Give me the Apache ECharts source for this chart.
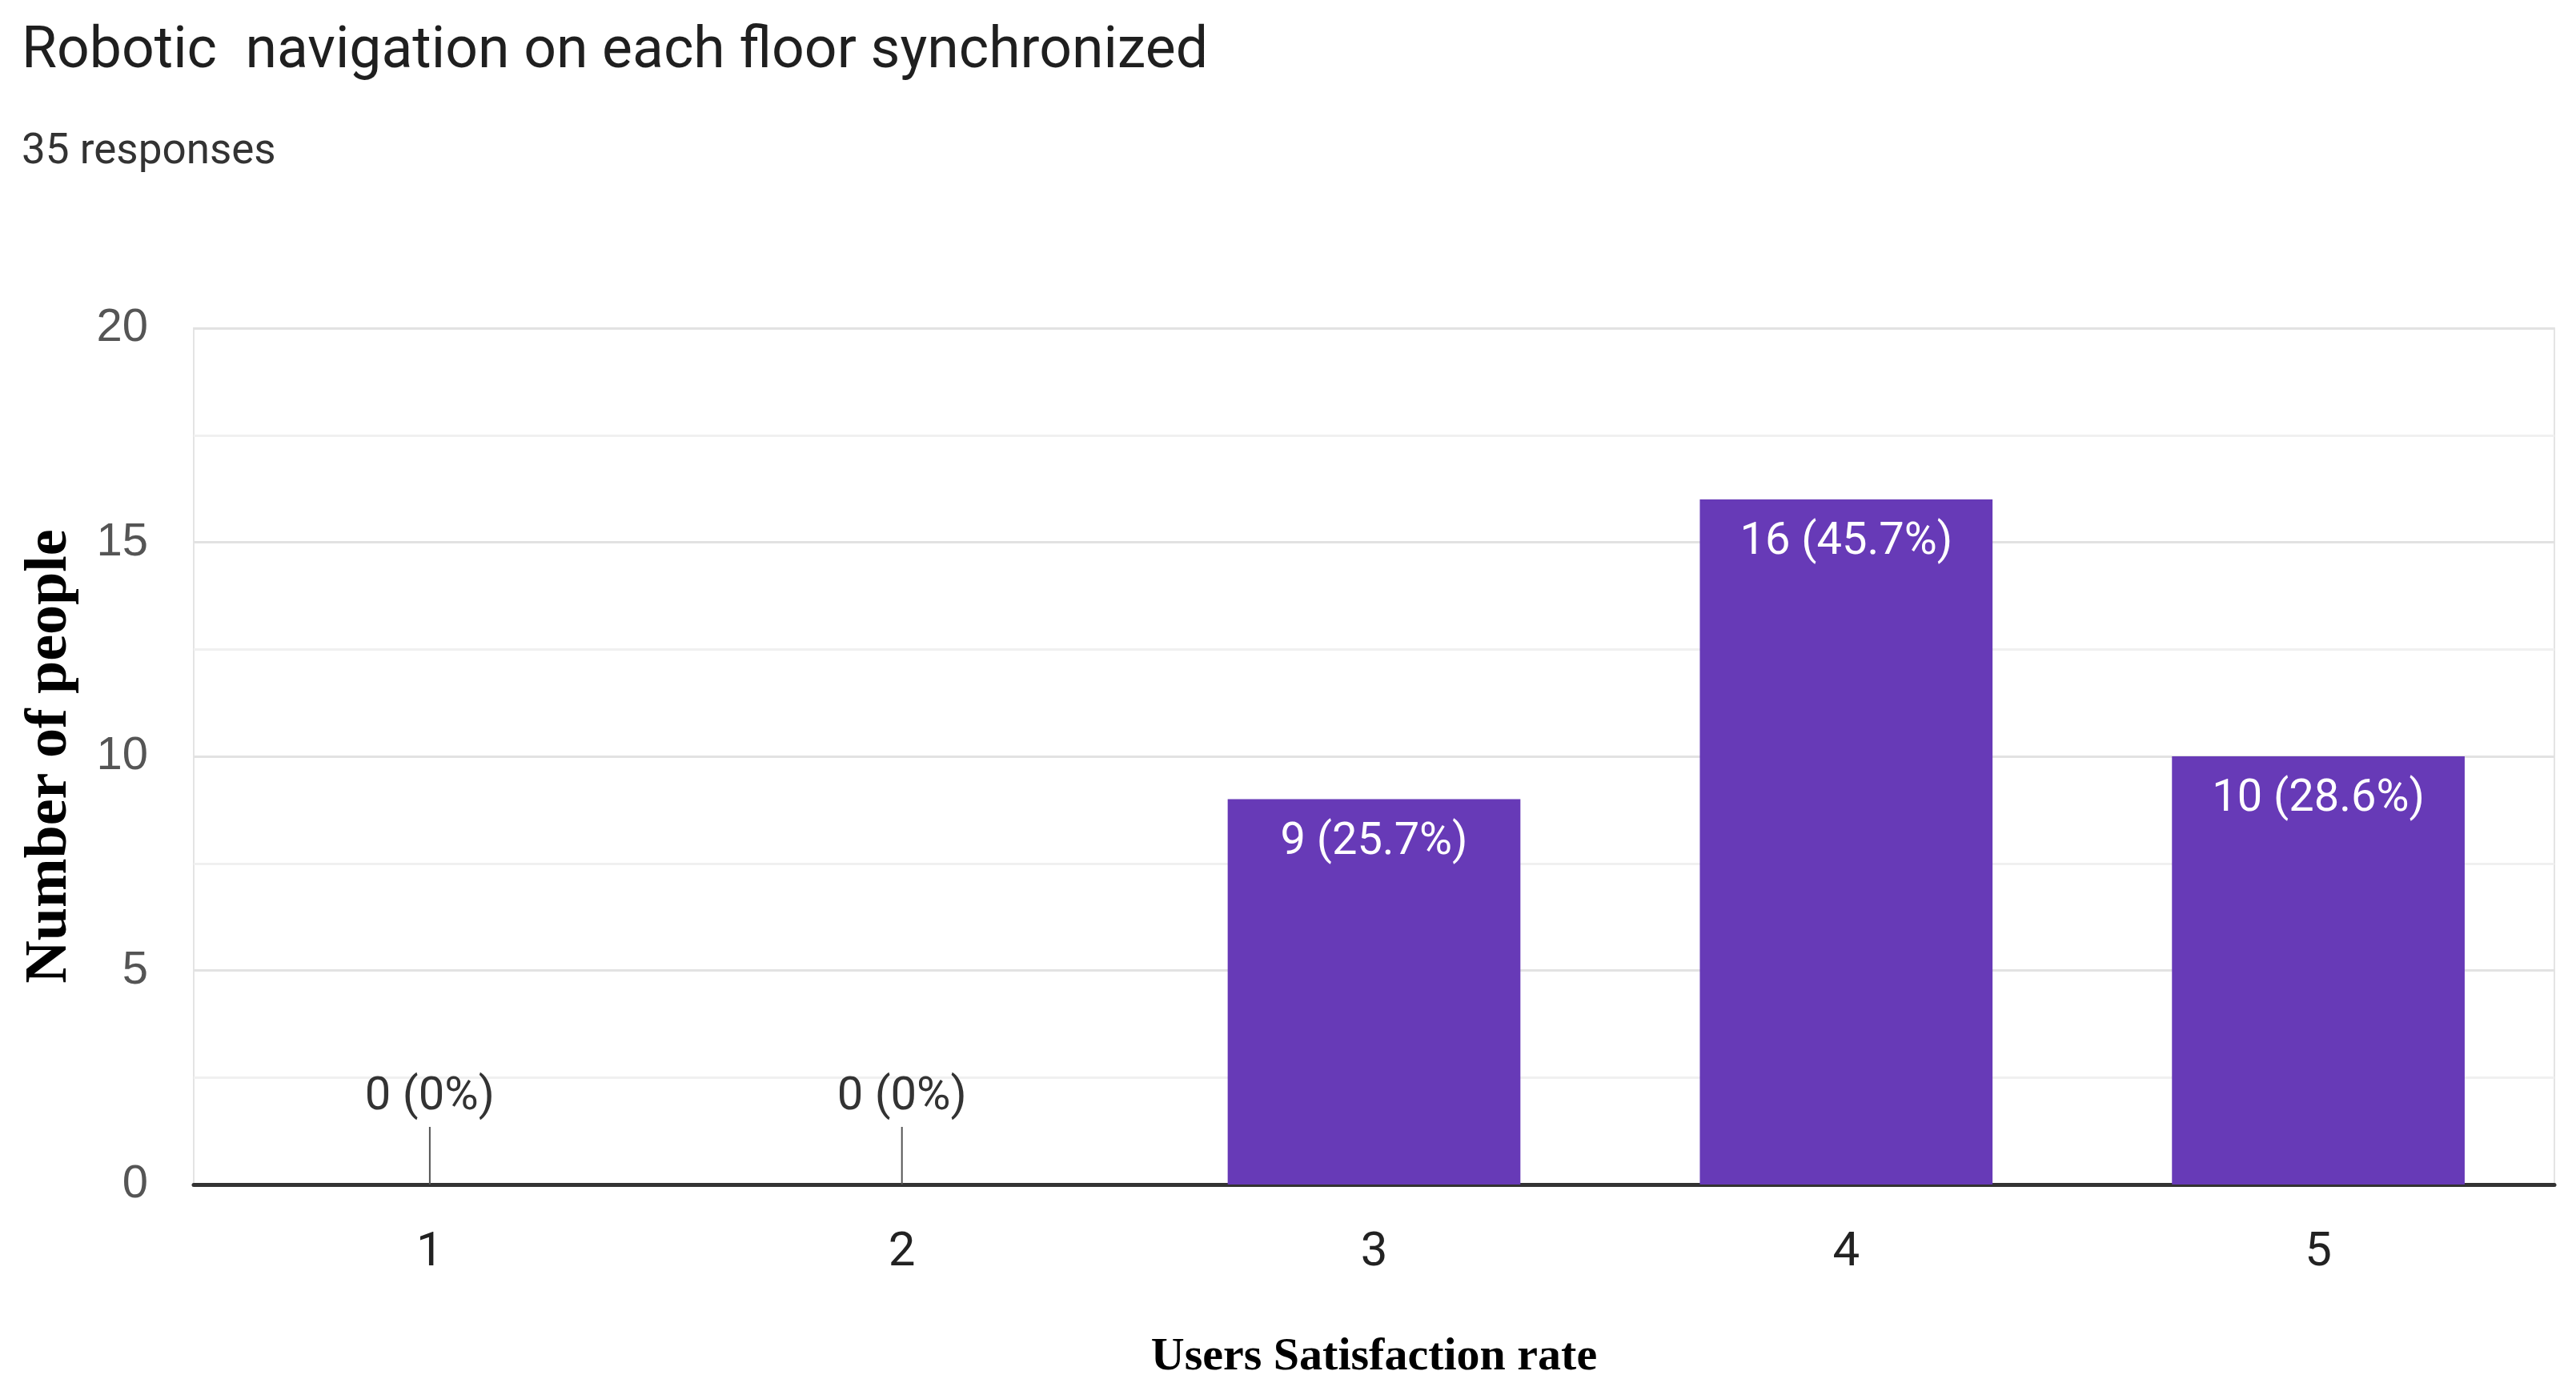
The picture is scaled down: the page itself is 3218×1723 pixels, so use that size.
<!DOCTYPE html>
<html>
<head>
<meta charset="utf-8">
<script src="https://cdn.jsdelivr.net/npm/echarts@6/dist/echarts.min.js"></script>
<style>
html,body{margin:0;padding:0;background:#fff;}
#chart{width:3218px;height:1723px;}
</style>
</head>
<body>
<div id="chart"></div>
<script>
const titleText = 'Robotic  navigation on each floor synchronized';
const subtitleText = '35 responses';
const categories = ['1', '2', '3', '4', '5'];
const counts = [0, 0, 9, 16, 10];
const yTicks = [0, 5, 10, 15, 20];
const xAxisTitle = 'Users Satisfaction rate';
const yAxisTitle = 'Number of people';

const total = counts.reduce((a, b) => a + b, 0);
const SANS = "Roboto, 'Liberation Sans', sans-serif";
const SERIF = "'Liberation Serif', 'Times New Roman', serif";
const purple = '#673ab7';

function pctText(v) {
  const p = v / total * 100;
  return v === 0 ? '0' : p.toFixed(1);
}

const barData = counts.map(v => v === 0 ? {
  value: v,
  label: { position: 'top', distance: 80, color: '#333', fontSize: 58 }
} : v);

const chart = echarts.init(document.getElementById('chart'), null, { renderer: 'canvas' });
chart.setOption({
  backgroundColor: '#ffffff',
  animation: false,
  title: [
    { text: titleText, left: 22, top: 25, textStyle: { fontFamily: SANS, fontSize: 71.5, fontWeight: 'normal', color: '#1f1f1f' } },
    { text: subtitleText, left: 22, top: 159, textStyle: { fontFamily: SANS, fontSize: 53, fontWeight: 'normal', color: '#333' } }
  ],
  grid: { left: 242, right: 27, top: 410, bottom: 243, outerBoundsMode: 'none', containLabel: false, show: true, borderColor: '#e4e4e4', borderWidth: 2 },
  xAxis: {
    type: 'category',
    data: categories,
    boundaryGap: true,
    axisLine: { lineStyle: { color: '#333', width: 5 } },
    axisTick: { show: false },
    axisLabel: { fontFamily: SANS, fontSize: 60, color: '#222', margin: 56 },
    name: xAxisTitle,
    nameLocation: 'middle',
    nameGap: 187,
    nameMoveOverlap: false,
    nameTextStyle: { fontFamily: SERIF, fontWeight: 'bold', fontSize: 58, color: '#000' }
  },
  yAxis: {
    type: 'value',
    min: yTicks[0],
    max: yTicks[yTicks.length - 1],
    interval: yTicks[1] - yTicks[0],
    axisLine: { show: false },
    axisTick: { show: false },
    axisLabel: { fontFamily: "'Liberation Sans', Arial, sans-serif", fontSize: 58, color: '#555', margin: 57 },
    splitLine: { lineStyle: { color: '#e2e2e2', width: 3 } },
    minorTick: { show: false, splitNumber: 2 },
    minorSplitLine: { show: true, lineStyle: { color: '#f0f0f0', width: 3 } },
    name: yAxisTitle,
    nameLocation: 'middle',
    nameRotate: 90,
    nameGap: 142,
    nameMoveOverlap: false,
    nameTextStyle: { fontFamily: SERIF, fontWeight: 'bold', fontSize: 74, color: '#000' }
  },
  series: [
    {
      type: 'bar',
      data: barData,
      barWidth: '62%',
      itemStyle: { color: purple },
      label: {
        show: true,
        position: 'insideTop',
        distance: 26,
        color: '#fff',
        fontFamily: SANS,
        fontSize: 56,
        formatter: p => p.value + ' (' + pctText(p.value) + '%)'
      },
      z: 3
    },
    {
      type: 'custom',
      data: counts.map((v, i) => [i, v]),
      z: 4,
      silent: true,
      renderItem: function (params, api) {
        const v = api.value(1);
        if (v !== 0) return null;
        const p = api.coord([api.value(0), v]);
        return {
          type: 'line',
          shape: { x1: p[0], y1: p[1], x2: p[0], y2: p[1] - 72 },
          style: { stroke: '#555', lineWidth: 2 }
        };
      }
    }
  ]
});
</script>
</body>
</html>
